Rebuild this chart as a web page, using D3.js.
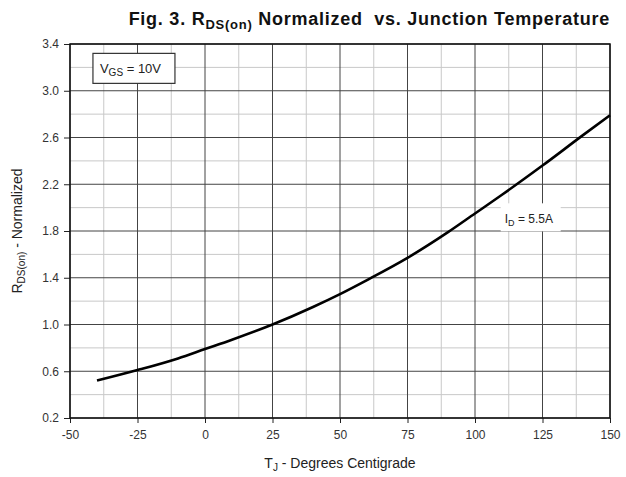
<!DOCTYPE html>
<html>
<head>
<meta charset="utf-8">
<script src="https://cdn.jsdelivr.net/npm/d3@7"></script>
<style>
  body { margin: 0; background: #fff; }
  text { font-family: "Liberation Sans", Arial, sans-serif; }
</style>
</head>
<body>
<div id="chart"></div>
<script>
// curve values
const tempC = [-40, -25, -10, 0, 10, 25, 40, 50, 60, 75, 90, 100, 110, 125, 140, 150];
const rdsNorm = [0.52, 0.61, 0.71, 0.79, 0.87, 1.00, 1.15, 1.26, 1.38, 1.57, 1.79, 1.95, 2.11, 2.36, 2.62, 2.79];

const xTicks = [-50, -25, 0, 25, 50, 75, 100, 125, 150];
const yTicks = [0.2, 0.6, 1.0, 1.4, 1.8, 2.2, 2.6, 3.0, 3.4];
const xMinor = [-37.5, -12.5, 12.5, 37.5, 62.5, 87.5, 112.5, 137.5];
const yMinor = [0.4, 0.8, 1.2, 1.6, 2.0, 2.4, 2.8, 3.2];

const width = 626, height = 477;
const margin = { top: 44, right: 16, bottom: 59, left: 70 };

const svg = d3.select('#chart').append('svg')
    .attr('width', width)
    .attr('height', height);

const x = d3.scaleLinear().domain([-50, 150]).range([margin.left, width - margin.right]);
const y = d3.scaleLinear().domain([0.2, 3.4]).range([height - margin.bottom, margin.top]);

// minor grid (light)
svg.append('g').selectAll('line').data(xMinor).enter().append('line')
    .attr('x1', d => x(d)).attr('x2', d => x(d))
    .attr('y1', y(0.2)).attr('y2', y(3.4))
    .attr('stroke', '#c8c8c8').attr('stroke-width', 1);
svg.append('g').selectAll('line').data(yMinor).enter().append('line')
    .attr('x1', x(-50)).attr('x2', x(150))
    .attr('y1', d => y(d)).attr('y2', d => y(d))
    .attr('stroke', '#c8c8c8').attr('stroke-width', 1);

// major grid (dark)
svg.append('g').selectAll('line').data(xTicks).enter().append('line')
    .attr('x1', d => x(d)).attr('x2', d => x(d))
    .attr('y1', y(0.2)).attr('y2', y(3.4))
    .attr('stroke', '#444').attr('stroke-width', 1);
svg.append('g').selectAll('line').data(yTicks).enter().append('line')
    .attr('x1', x(-50)).attr('x2', x(150))
    .attr('y1', d => y(d)).attr('y2', d => y(d))
    .attr('stroke', '#444').attr('stroke-width', 1);

// axes
const xAxis = svg.append('g')
    .attr('transform', `translate(0,${y(0.2)})`)
    .call(d3.axisBottom(x).tickValues(xTicks).tickSize(5).tickPadding(7).tickFormat(d => String(d)));
const yAxis = svg.append('g')
    .attr('transform', `translate(${x(-50)},0)`)
    .call(d3.axisLeft(y).tickValues(yTicks).tickSize(6).tickPadding(5).tickFormat(d3.format('.1f')));
[xAxis, yAxis].forEach(a => {
    a.select('.domain').remove();
    a.selectAll('line').attr('stroke', '#222');
    a.selectAll('text').attr('font-size', 12).attr('fill', '#333')
        .style('font-family', '"Liberation Sans", Arial, sans-serif');
});

// frame
svg.append('rect')
    .attr('x', x(-50)).attr('y', y(3.4))
    .attr('width', x(150) - x(-50)).attr('height', y(0.2) - y(3.4))
    .attr('fill', 'none').attr('stroke', '#111').attr('stroke-width', 1.5);

// I_D label with white background (drawn before curve so curve stays on top)
const idG = svg.append('g').attr('transform', `translate(${x(111)},${y(1.9)})`);
idG.append('rect').attr('x', -4).attr('y', -16).attr('width', 60).attr('height', 28).attr('fill', '#fff');
const idT = idG.append('text').attr('x', 0).attr('y', 4).attr('font-size', 12).attr('fill', '#222');
idT.append('tspan').text('I');
idT.append('tspan').attr('font-size', 9).attr('dy', 3).text('D');
idT.append('tspan').attr('dy', -3).text(' = 5.5A');

// curve
const line = d3.line().x((d, i) => x(tempC[i])).y(d => y(d)).curve(d3.curveMonotoneX);
svg.append('path')
    .attr('d', line(rdsNorm))
    .attr('fill', 'none').attr('stroke', '#000').attr('stroke-width', 2.6);

// V_GS box
const vg = svg.append('g').attr('transform', `translate(${x(-41.5)},${y(3.2)})`);
vg.append('rect').attr('x', 0).attr('y', -14).attr('width', 82).attr('height', 30)
    .attr('fill', '#fff').attr('stroke', '#333').attr('stroke-width', 1.2);
const vgT = vg.append('text').attr('x', 7).attr('y', 6).attr('font-size', 13).attr('fill', '#222');
vgT.append('tspan').text('V');
vgT.append('tspan').attr('font-size', 10).attr('dy', 3).text('GS');
vgT.append('tspan').attr('dy', -3).text(' = 10V');

// title
const title = svg.append('text')
    .attr('x', x(150)).attr('y', 25)
    .attr('text-anchor', 'end')
    .attr('font-size', 18).attr('font-weight', 'bold').attr('fill', '#111')
    .style('letter-spacing', '0.75px');
title.append('tspan').text('Fig. 3. R');
title.append('tspan').attr('font-size', 13).attr('dy', 4).text('DS(on)');
title.append('tspan').attr('dy', -4).text(' Normalized\u00a0 vs. Junction Temperature');

// x label
const xl = svg.append('text')
    .attr('x', (x(-50) + x(150)) / 2).attr('y', 468)
    .attr('text-anchor', 'middle').attr('font-size', 14).attr('fill', '#222');
xl.append('tspan').text('T');
xl.append('tspan').attr('font-size', 10).attr('dy', 3).text('J');
xl.append('tspan').attr('dy', -3).text(' - Degrees Centigrade');

// y label
const yl = svg.append('text')
    .attr('transform', `translate(22,${(y(0.2) + y(3.4)) / 2}) rotate(-90)`)
    .attr('text-anchor', 'middle').attr('font-size', 14).attr('fill', '#222');
yl.append('tspan').text('R');
yl.append('tspan').attr('font-size', 10).attr('dy', 3).text('DS(on)');
yl.append('tspan').attr('dy', -3).text(' - Normalized');
</script>
</body>
</html>
